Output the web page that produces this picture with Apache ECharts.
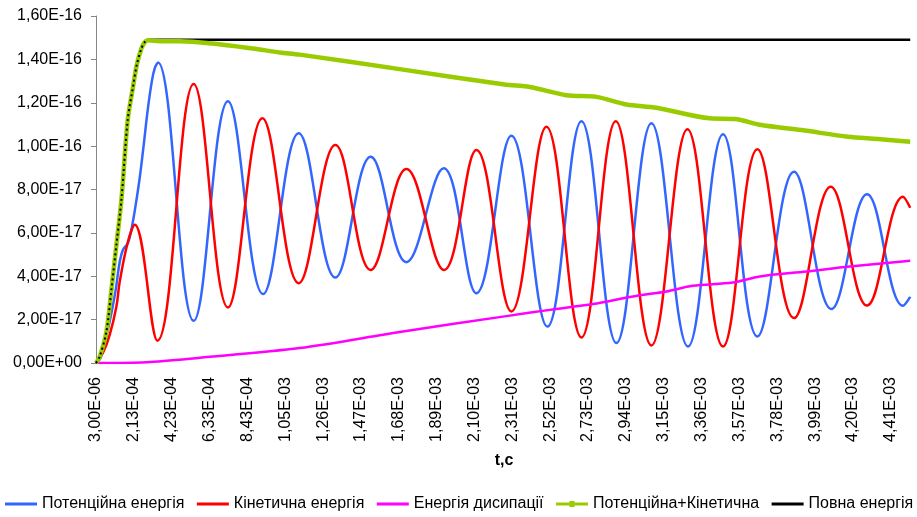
<!DOCTYPE html>
<html>
<head>
<meta charset="utf-8">
<script src="https://cdn.jsdelivr.net/npm/echarts@6/dist/echarts.min.js"></script>
<style>html,body{margin:0;padding:0;background:#fff;}#c{width:917px;height:517px;}</style>
</head>
<body>
<div id="c"></div>
<script>
// x-axis tick positions (s) - labels every 2.1E-04 s from 3.00E-06
const tickTimes = [0.000003, 0.000213, 0.000423, 0.000633, 0.000843, 0.001053, 0.001263, 0.001473,
  0.001683, 0.001893, 0.002103, 0.002313, 0.002523, 0.002733, 0.002943, 0.003153, 0.003363,
  0.003573, 0.003783, 0.003993, 0.004203, 0.004413];

const seriesNames = ['Потенційна енергія', 'Кінетична енергія', 'Енергія дисипації', 'Потенційна+Кінетична', 'Повна енергія'];

// Potential energy (blue)
const potT = [3.0e-6, 2.91e-5, 5.68e-5, 8.84e-5, 1.123e-4, 1.345e-4, 1.528e-4, 1.805e-4, 2.011e-4, 2.233e-4, 2.454e-4,
  2.676e-4, 2.898e-4, 3.12e-4, 3.287e-4, 3.47e-4, 5.45e-4, 7.35e-4, 9.30e-4, 1.1276e-3, 1.3312e-3, 1.527e-3,
  1.7251e-3, 1.932e-3, 2.1135e-3, 2.3076e-3, 2.5074e-3, 2.696e-3, 2.8902e-3, 3.0844e-3, 3.2874e-3, 3.4816e-3,
  3.6724e-3, 3.8755e-3, 4.083e-3, 4.2805e-3, 4.4802e-3, 4.5202e-3];
const potE = [0, 2.44e-18, 1.07e-17, 2.30e-17, 3.37e-17, 4.66e-17, 5.22e-17, 5.54e-17, 6.23e-17, 7.29e-17, 8.53e-17,
  1.005e-16, 1.166e-16, 1.295e-16, 1.359e-16, 1.386e-16, 1.947e-17, 1.207e-16, 3.18e-17, 1.059e-16, 3.94e-17, 9.51e-17,
  4.65e-17, 8.98e-17, 3.22e-17, 1.048e-16, 1.68e-17, 1.115e-16, 9.2e-18, 1.105e-16, 7.6e-18, 1.055e-16,
  1.22e-17, 8.82e-17, 2.49e-17, 7.78e-17, 2.64e-17, 3.05e-17];

// Kinetic energy (red)
const kinT = [3.0e-6, 4.18e-5, 7.9e-5, 1.162e-4, 1.345e-4, 1.805e-4, 2.177e-4, 3.436e-4, 5.45e-4, 7.35e-4, 9.262e-4,
  1.1276e-3, 1.3312e-3, 1.527e-3, 1.7251e-3, 1.9337e-3, 2.1135e-3, 2.3076e-3, 2.5018e-3, 2.696e-3, 2.8863e-3,
  3.0844e-3, 3.2841e-3, 3.4816e-3, 3.6724e-3, 3.8755e-3, 4.0791e-3, 4.2805e-3, 4.4802e-3, 4.5202e-3];
const kinE = [0, 4.74e-18, 1.30e-17, 2.61e-17, 3.74e-17, 5.60e-17, 6.37e-17, 1.03e-17, 1.286e-16, 2.56e-17, 1.128e-16,
  3.68e-17, 1.005e-16, 4.29e-17, 8.94e-17, 4.29e-17, 9.82e-17, 2.38e-17, 1.089e-16, 1.18e-17, 1.115e-16,
  8.1e-18, 1.078e-16, 7.6e-18, 9.86e-17, 2.07e-17, 8.13e-17, 2.65e-17, 7.67e-17, 7.16e-17];

// Dissipation energy (magenta)
const disT = [3.0e-6, 2.826e-4, 5.783e-4, 1.1331e-3, 1.6879e-3, 2.2704e-3, 2.5201e-3, 2.7604e-3, 2.9823e-3,
  3.1676e-3, 3.3135e-3, 3.5354e-3, 3.6852e-3, 3.9443e-3, 4.1845e-3, 4.5202e-3];
const disE = [0, 3.7e-19, 2.44e-18, 6.9e-18, 1.43e-17, 2.15e-17, 2.45e-17, 2.72e-17, 3.07e-17,
  3.30e-17, 3.56e-17, 3.71e-17, 3.99e-17, 4.22e-17, 4.45e-17, 4.71e-17];

// Potential + kinetic (green)
const sumT = [3.0e-6, 2.35e-5, 6.07e-5, 8.84e-5, 1.162e-4, 1.439e-4, 1.789e-4, 2.083e-4, 2.288e-4, 2.549e-4, 2.732e-4,
  2.915e-4, 3.564e-4, 4.674e-4, 6.505e-4, 8.724e-4, 1.0222e-3, 1.1331e-3, 1.6879e-3, 2.2704e-3, 2.4092e-3,
  2.6128e-3, 2.7792e-3, 2.9457e-3, 3.1121e-3, 3.4078e-3, 3.5465e-3, 3.6946e-3, 3.9166e-3, 4.1751e-3, 4.3415e-3, 4.5202e-3];
const sumE = [0, 2.9e-18, 1.44e-17, 3.37e-17, 5.45e-17, 7.52e-17, 1.12e-16, 1.273e-16, 1.373e-16, 1.450e-16, 1.479e-16,
  1.488e-16, 1.484e-16, 1.484e-16, 1.473e-16, 1.450e-16, 1.432e-16, 1.422e-16, 1.355e-16, 1.284e-16, 1.273e-16,
  1.235e-16, 1.227e-16, 1.192e-16, 1.177e-16, 1.128e-16, 1.125e-16, 1.097e-16, 1.074e-16, 1.043e-16, 1.033e-16, 1.020e-16];

// Total energy (black)
const totT = [3.0e-6, 2.35e-5, 6.07e-5, 8.84e-5, 1.162e-4, 1.439e-4, 1.789e-4, 2.083e-4, 2.288e-4, 2.549e-4, 2.732e-4,
  2.915e-4, 4.5202e-3];
const totE = [0, 2.9e-18, 1.44e-17, 3.37e-17, 5.45e-17, 7.52e-17, 1.12e-16, 1.273e-16, 1.373e-16, 1.450e-16, 1.479e-16,
  1.49e-16, 1.49e-16];
const totRiseCount = 12;

function pairs(t, e) { return t.map((v, i) => [v, e[i]]); }

function fmtExp(v) {
  if (Math.abs(v) < 1e-30) return '0,00E+00';
  const s = Number(v).toExponential(2);
  const parts = s.split('e');
  const sign = parts[1][0];
  const d = parts[1].slice(1).padStart(2, '0');
  return parts[0].replace('.', ',') + 'E' + sign + d;
}

const FONT = 'Liberation Sans, Arial, sans-serif';
const chart = echarts.init(document.getElementById('c'), null, { renderer: 'canvas' });

const colors = ['#3366ff', '#ff0000', '#ff00ff', '#99cc00', '#000000'];
const lineIcon = 'path://M0,0 H32 V3 H0 Z';
const lineMarkIcon = 'path://M0,1.5 H32 V4.5 H0 Z M13.5,0 H18.5 V6 H13.5 Z';

chart.setOption({
  animation: false,
  backgroundColor: '#ffffff',
  grid: { left: 96, right: 5, top: 16, bottom: 154, outerBoundsMode: 'none', containLabel: false },
  legend: {
    data: [
      { name: seriesNames[0], icon: lineIcon },
      { name: seriesNames[1], icon: lineIcon },
      { name: seriesNames[2], icon: lineIcon },
      { name: seriesNames[3], icon: lineMarkIcon },
      { name: seriesNames[4], icon: lineIcon }
    ],
    top: 496, left: 5,
    itemWidth: 32, itemHeight: 16, itemGap: 12.5,
    symbolKeepAspect: true,
    textStyle: { fontSize: 16, fontFamily: FONT, color: '#000' },
    padding: 0
  },
  xAxis: {
    type: 'value',
    min: 3e-6, max: 4.53e-3,
    name: 't,c', nameLocation: 'middle', nameGap: 90,
    nameTextStyle: { fontSize: 16, fontWeight: 'bold', fontFamily: FONT, color: '#000' },
    axisLine: { show: false },
    axisTick: { show: false },
    splitLine: { show: false },
    axisLabel: {
      customValues: tickTimes,
      rotate: 90, margin: 14,
      fontSize: 16, fontFamily: FONT, color: '#000',
      formatter: fmtExp
    }
  },
  yAxis: {
    type: 'value', min: 0, max: 1.6e-16, interval: 2e-17,
    axisLine: { show: true, lineStyle: { color: '#868686', width: 1 } },
    axisTick: { show: true, length: 5, lineStyle: { color: '#868686' } },
    splitLine: { show: false },
    axisLabel: { fontSize: 16, fontFamily: FONT, color: '#000', margin: 14, formatter: fmtExp }
  },
  series: [
    { name: seriesNames[0], type: 'line', data: pairs(potT, potE), smooth: 0.4, symbol: 'none',
      lineStyle: { color: colors[0], width: 2.5 }, itemStyle: { color: colors[0] }, z: 2 },
    { name: seriesNames[1], type: 'line', data: pairs(kinT, kinE), smooth: 0.4, symbol: 'none',
      lineStyle: { color: colors[1], width: 2.5 }, itemStyle: { color: colors[1] }, z: 3 },
    { name: seriesNames[2], type: 'line', data: pairs(disT, disE), smooth: 0.3, symbol: 'none',
      lineStyle: { color: colors[2], width: 2.5 }, itemStyle: { color: colors[2] }, z: 4 },
    { name: seriesNames[4], type: 'line', data: pairs(totT, totE), smooth: 0.3, symbol: 'none',
      lineStyle: { color: colors[4], width: 2.5 }, itemStyle: { color: colors[4] }, z: 5 },
    { name: seriesNames[3], type: 'line', data: pairs(sumT, sumE), smooth: 0.3, symbol: 'none',
      lineStyle: { color: colors[3], width: 4.5 }, itemStyle: { color: colors[3] }, z: 6 },
    { name: seriesNames[4], type: 'line', data: pairs(totT.slice(0, totRiseCount), totE.slice(0, totRiseCount)),
      smooth: 0.3, symbol: 'none',
      lineStyle: { color: colors[4], width: 2, type: [2, 3] }, itemStyle: { color: colors[4] }, z: 7 }
  ]
});
</script>
</body>
</html>
